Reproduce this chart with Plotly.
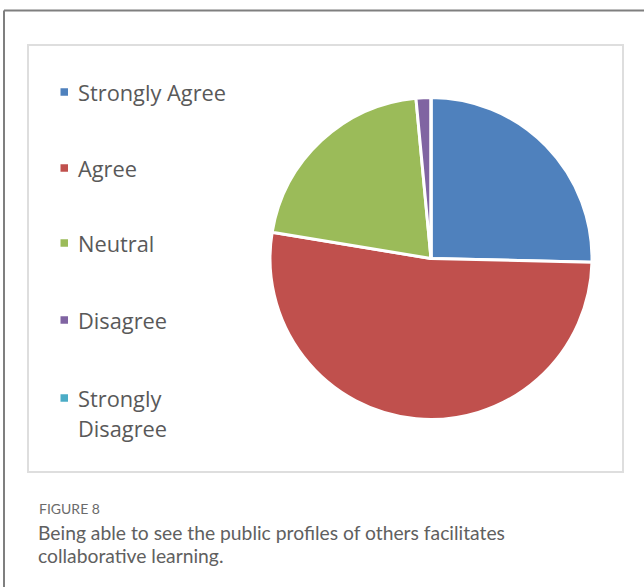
import plotly.graph_objects as go

# Survey responses
categories = ["Strongly Agree", "Agree", "Neutral", "Disagree", "Strongly Disagree"]
counts = [17, 35, 14, 1, 0]
colors = ["#4F81BD", "#C0504D", "#9BBB59", "#8064A2", "#4BACC6"]
legend_text = ["Strongly Agree", "Agree", "Neutral", "Disagree", "Strongly<br>Disagree"]
caption_label = "FIGURE 8"
caption_lines = ["Being able to see the public profiles of others facilitates",
                 "collaborative learning."]

W, H = 644, 587


def px(x):
    return x / W


def py(y):
    return 1 - y / H


fig = go.Figure(
    go.Pie(
        labels=categories,
        values=counts,
        sort=False,
        direction="clockwise",
        rotation=0,
        marker=dict(colors=colors, line=dict(color="white", width=3)),
        textinfo="none",
        hoverinfo="label+value+percent",
        showlegend=False,
        domain=dict(x=[px(270), px(592)], y=[py(419.5), py(97.5)]),
    )
)

shapes = [
    # outer frame (top and left edges)
    dict(type="line", xref="paper", yref="paper", x0=px(4), x1=1.01, y0=py(10.5), y1=py(10.5),
         line=dict(color="#7f7f7f", width=2)),
    dict(type="line", xref="paper", yref="paper", x0=px(4), x1=px(4), y0=py(10.5), y1=-0.01,
         line=dict(color="#7f7f7f", width=2)),
    # chart area border
    dict(type="rect", xref="paper", yref="paper", x0=px(28), x1=px(623), y0=py(472), y1=py(45),
         line=dict(color="#dedede", width=2), fillcolor="rgba(0,0,0,0)"),
]

annotations = []
legend_y = [92, 168, 243, 320, 398]
line_gap = 30
for name, col, ly in zip(legend_text, colors, legend_y):
    shapes.append(dict(type="rect", xref="paper", yref="paper",
                       x0=px(60.5), x1=px(68), y0=py(ly + 3.75), y1=py(ly - 3.75),
                       line=dict(width=0), fillcolor=col))
    for k, part in enumerate(name.split("<br>")):
        annotations.append(dict(text=part, xref="paper", yref="paper", x=px(75.5), y=py(ly + k * line_gap),
                                xanchor="left", yanchor="middle", showarrow=False, align="left",
                                font=dict(family="Open Sans", size=21.8, color="#595959")))

annotations.append(dict(text=caption_label, xref="paper", yref="paper", x=px(37), y=py(508),
                        xanchor="left", yanchor="middle", showarrow=False,
                        font=dict(family="Lato", size=14, color="#6b6b6b")))
for k, line in enumerate(caption_lines):
    annotations.append(dict(text=line, xref="paper", yref="paper", x=px(36), y=py(532 + 23 * k),
                            xanchor="left", yanchor="middle", showarrow=False, align="left",
                            font=dict(family="Lato", size=19.3, color="#606060")))

fig.update_layout(
    width=W, height=H,
    margin=dict(l=0, r=0, t=0, b=0),
    paper_bgcolor="white",
    plot_bgcolor="white",
    shapes=shapes,
    annotations=annotations,
)

fig.write_html("out.html")
